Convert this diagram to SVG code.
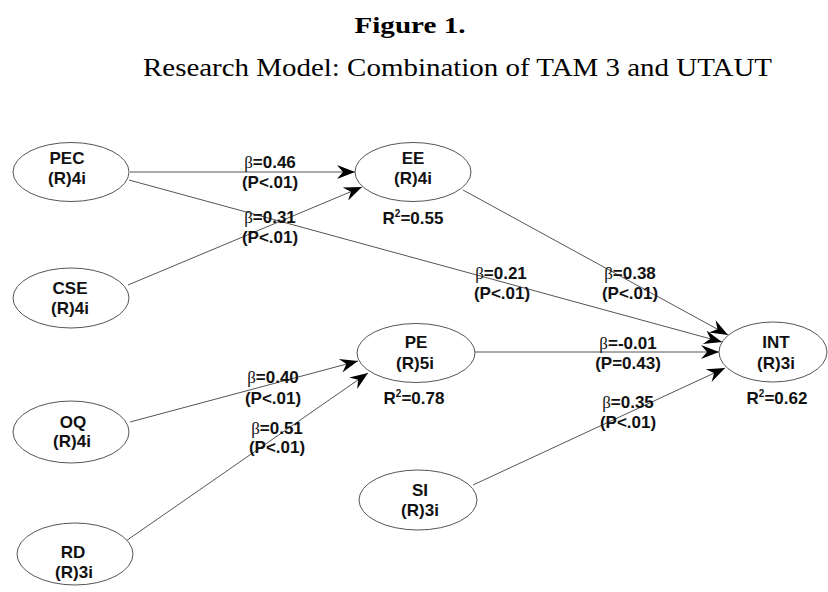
<svg xmlns="http://www.w3.org/2000/svg" width="828" height="592" viewBox="0 0 828 592">
<style>
.title{font-family:"Liberation Serif","Times New Roman",serif;fill:#000}
.node ellipse{fill:#fff;stroke:#555;stroke-width:1}
.t{font-family:"Liberation Sans",Arial,sans-serif;font-weight:bold;font-size:17px;fill:#111;text-anchor:middle}
.b{font-family:"Liberation Serif","Times New Roman",serif;font-weight:normal}
.e{stroke:#555;stroke-width:1;fill:none;marker-end:url(#ah)}
</style>
<defs>
<marker id="ah" viewBox="0 0 20 14" refX="20" refY="7" markerWidth="20" markerHeight="14" markerUnits="userSpaceOnUse" orient="auto">
<path d="M20,7 L2,0 L8,7 L2,14 Z" fill="#000"/>
</marker>
</defs>
<rect width="828" height="592" fill="#fff"/>
<text class="title" x="410" y="33" font-size="24" font-weight="bold" text-anchor="middle" textLength="111" lengthAdjust="spacingAndGlyphs">Figure 1.</text>
<text class="title" x="143" y="76" font-size="26" textLength="629" lengthAdjust="spacingAndGlyphs">Research Model: Combination of TAM 3 and UTAUT</text>

<g id="connectors">
<line class="e" x1="130" y1="172" x2="355" y2="172"/>
<line class="e" x1="128" y1="285" x2="362" y2="187"/>
<line class="e" x1="129" y1="180" x2="722" y2="342"/>
<line class="e" x1="463" y1="190" x2="728" y2="335"/>
<line class="e" x1="475" y1="352" x2="719" y2="352"/>
<line class="e" x1="473" y1="485" x2="725" y2="368"/>
<line class="e" x1="130" y1="422" x2="358" y2="361"/>
<line class="e" x1="123" y1="543" x2="368" y2="373"/>
</g>

<g id="node-PEC" class="node"><ellipse cx="71" cy="172" rx="58" ry="29.5"/><text class="t" x="67" y="164">PEC</text><text class="t" x="67" y="184">(R)4i</text></g>
<g id="node-EE" class="node"><ellipse cx="413" cy="172" rx="58" ry="29.5"/><text class="t" x="413" y="164">EE</text><text class="t" x="413" y="184">(R)4i</text><text class="t" x="413" y="224">R<tspan font-size="10" dy="-7">2</tspan><tspan dy="7">=0.55</tspan></text></g>
<g id="node-CSE" class="node"><ellipse cx="71" cy="298" rx="58" ry="30"/><text class="t" x="70" y="294">CSE</text><text class="t" x="70" y="314">(R)4i</text></g>
<g id="node-OQ" class="node"><ellipse cx="71" cy="432" rx="58" ry="31"/><text class="t" x="73" y="428">OQ</text><text class="t" x="72" y="447">(R)4i</text></g>
<g id="node-RD" class="node"><ellipse cx="75" cy="554" rx="58" ry="31"/><text class="t" x="73" y="558">RD</text><text class="t" x="74" y="578">(R)3i</text></g>
<g id="node-PE" class="node"><ellipse cx="416" cy="353" rx="59" ry="29.5"/><text class="t" x="416" y="348">PE</text><text class="t" x="415" y="369">(R)5i</text><text class="t" x="414" y="404">R<tspan font-size="10" dy="-7">2</tspan><tspan dy="7">=0.78</tspan></text></g>
<g id="node-INT" class="node"><ellipse cx="773" cy="352" rx="54" ry="30"/><text class="t" x="776" y="348">INT</text><text class="t" x="776" y="369">(R)3i</text><text class="t" x="777" y="404">R<tspan font-size="10" dy="-7">2</tspan><tspan dy="7">=0.62</tspan></text></g>
<g id="node-SI" class="node"><ellipse cx="418" cy="500" rx="59" ry="30"/><text class="t" x="420" y="496">SI</text><text class="t" x="420" y="516">(R)3i</text></g>

<g id="edge-labels">
<text class="t" x="270" y="168"><tspan class="b">β</tspan>=0.46</text><text class="t" x="270" y="188">(P&lt;.01)</text>
<text class="t" x="270" y="223"><tspan class="b">β</tspan>=0.31</text><text class="t" x="270" y="243">(P&lt;.01)</text>
<text class="t" x="501" y="279"><tspan class="b">β</tspan>=0.21</text><text class="t" x="502" y="299">(P&lt;.01)</text>
<text class="t" x="630" y="279"><tspan class="b">β</tspan>=0.38</text><text class="t" x="630" y="299">(P&lt;.01)</text>
<text class="t" x="628" y="349"><tspan class="b">β</tspan>=-0.01</text><text class="t" x="628" y="369">(P=0.43)</text>
<text class="t" x="628" y="408"><tspan class="b">β</tspan>=0.35</text><text class="t" x="628" y="428">(P&lt;.01)</text>
<text class="t" x="273" y="383"><tspan class="b">β</tspan>=0.40</text><text class="t" x="273" y="404">(P&lt;.01)</text>
<text class="t" x="277" y="434"><tspan class="b">β</tspan>=0.51</text><text class="t" x="277" y="453">(P&lt;.01)</text>
</g>
</svg>
